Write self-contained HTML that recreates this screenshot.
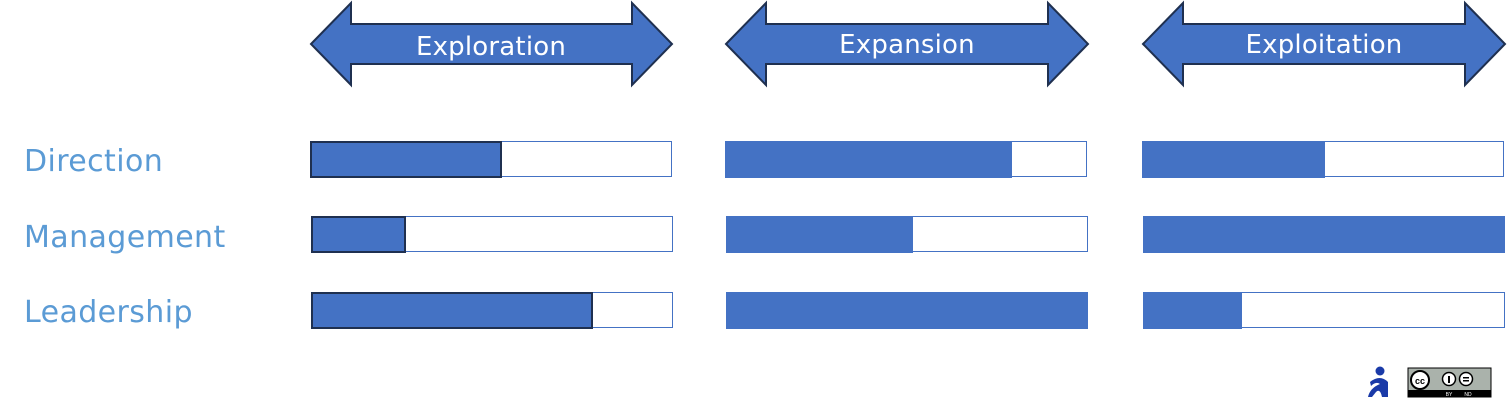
<!DOCTYPE html>
<html><head><style>
body{margin:0;width:1507px;height:414px;background:#fff;overflow:hidden;position:relative;font-family:"Liberation Sans",sans-serif}
.lab{position:absolute;left:24px;color:#5b9bd5;font-family:"DejaVu Sans",sans-serif;font-size:30px;letter-spacing:0.4px;line-height:36px}
.bar{position:absolute;height:36px;border:1.5px solid #4472c4;box-sizing:border-box;background:#fff}
.f{position:absolute;left:-1.5px;top:-1.5px;bottom:-1.5px;background:#4472c4;box-sizing:border-box}
.d{border:2px solid #1f3050}
</style></head><body>
<svg width="1507" height="414" style="position:absolute;left:0;top:0">
<g fill="#4472c4" stroke="#1f3050" stroke-width="2">
<polygon points="311,44 351,3 351,24 632,24 632,3 672,44 632,85 632,64 351,64 351,85"/>
<polygon points="726,44 766,3 766,24 1048,24 1048,3 1088,44 1048,85 1048,64 766,64 766,85"/>
<polygon points="1143,44 1183,3 1183,24 1465,24 1465,3 1505,44 1465,85 1465,64 1183,64 1183,85"/>
</g>
<g fill="#fff" font-family="DejaVu Sans, sans-serif" font-size="26" letter-spacing="0.2" text-anchor="middle">
<text x="491" y="55">Exploration</text>
<text x="907" y="53">Expansion</text>
<text x="1324" y="53">Exploitation</text>
</g>
<circle cx="1380" cy="371" r="4.5" fill="#1a3aa8"/>
<path d="M1370,382 Q1380,374 1388,382 L1388,397 L1382,397 Q1380,388 1376,392 L1372,397 L1368,397 Q1370,388 1380,384 Q1376,381 1371,386 Z" fill="#1a3aa8"/>
<rect x="1408" y="368" width="83" height="29" fill="#aab2ab" stroke="#000"/>
<rect x="1408" y="390" width="83" height="7" fill="#000"/>
<circle cx="1420" cy="380" r="9" fill="#fff" stroke="#000" stroke-width="2"/>
<text x="1420" y="384" font-size="9" font-weight="bold" text-anchor="middle" font-family="Liberation Sans">cc</text>
<circle cx="1449" cy="379" r="6.5" fill="#fff" stroke="#000" stroke-width="1.5"/>
<circle cx="1466" cy="379" r="6.5" fill="#fff" stroke="#000" stroke-width="1.5"/>
<rect x="1448" y="376" width="2" height="7"/><rect x="1463" y="377" width="6" height="1.5"/><rect x="1463" y="380" width="6" height="1.5"/>
<text x="1449" y="396" font-size="5" fill="#fff" text-anchor="middle">BY</text>
<text x="1468" y="396" font-size="5" fill="#fff" text-anchor="middle">ND</text>
</svg>
<div class="lab" style="top:144px">Direction</div>
<div class="lab" style="top:220px">Management</div>
<div class="lab" style="top:295px">Leadership</div>

<div class="bar" style="left:310px;top:141px;width:362px"><div class="f d" style="width:192px"></div></div>
<div class="bar" style="left:725px;top:141px;width:362px"><div class="f" style="width:287px"></div></div>
<div class="bar" style="left:1142px;top:141px;width:362px"><div class="f" style="width:183px"></div></div>

<div class="bar" style="left:311px;top:216px;width:362px"><div class="f d" style="width:95px"></div></div>
<div class="bar" style="left:726px;top:216px;width:362px"><div class="f" style="width:187px"></div></div>
<div class="bar" style="left:1143px;top:216px;width:362px"><div class="f" style="width:362px"></div></div>

<div class="bar" style="left:311px;top:292px;width:362px"><div class="f d" style="width:282px"></div></div>
<div class="bar" style="left:726px;top:292px;width:362px"><div class="f" style="width:362px"></div></div>
<div class="bar" style="left:1143px;top:292px;width:362px"><div class="f" style="width:99px"></div></div>
</body></html>
